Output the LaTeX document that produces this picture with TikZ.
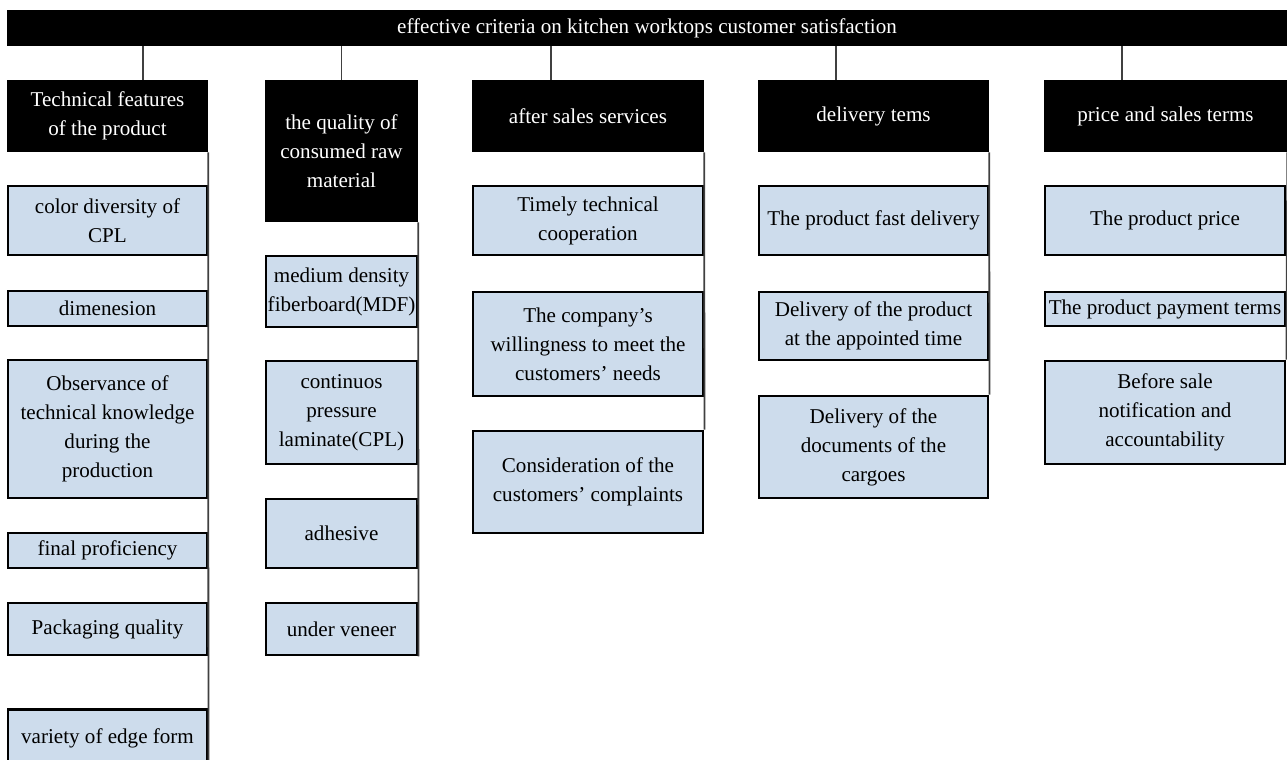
\documentclass[tikz,border=0pt]{standalone}
\usepackage{fontspec}
\setmainfont{Liberation Serif}
\usetikzlibrary{positioning}
\definecolor{itemblue}{RGB}{205,220,236}

\begin{document}
\begin{tikzpicture}[
    x=0.02cm, y=-0.02cm,
    font=\fontsize{12}{16.5}\selectfont,
    head/.style={fill=black, text=white, align=center, inner sep=1pt},
    item/.style={draw, line width=1.6pt, fill=itemblue, align=center, inner sep=1pt},
    link/.style={draw=black!75, line width=1pt}]
  \useasboundingbox (0,0) rectangle (1287,760);
  % title bar
  \node[head, minimum width=25.6cm, minimum height=0.72cm] (top) at (647,28)
       {effective criteria on kitchen worktops customer satisfaction};
  % criteria groups
  \node[head, minimum width=4.02cm, minimum height=1.44cm] (tech) at (107.5,116) {Technical features\\of the product};
  \node[head, minimum width=3.06cm, minimum height=2.84cm] (raw) at (341.5,151) {the quality of\\consumed raw\\material};
  \node[head, minimum width=4.64cm, minimum height=1.44cm] (after) at (588,116) {after sales services};
  \node[head, minimum width=4.62cm, minimum height=1.44cm] (deliv) at (873.5,116) {delivery tems};
  \node[head, minimum width=4.86cm, minimum height=1.44cm] (price) at (1165.5,116) {price and sales terms};
  \foreach \g/\dx in {tech/0.71, raw/0, after/-0.74, deliv/-0.75, price/-0.87} {
    \coordinate (\g-in) at ([xshift=\dx cm]\g.north);
    \draw[link] (\g-in) -- (\g-in |- top.south);
  }

  % technical features
  \node[item, minimum width=3.98cm, minimum height=1.38cm] (tech1) at (107.5,220.5) {color diversity of\\CPL};
  \node[item, minimum width=3.98cm, minimum height=0.7cm] (tech2) at (107.5,308.5) {dimenesion};
  \node[item, minimum width=3.98cm, minimum height=2.76cm] (tech3) at (107.5,429) {Observance of\\technical knowledge\\during the\\production};
  \node[item, minimum width=3.98cm, minimum height=0.7cm] (tech4) at (107.5,550.5) {final proficiency};
  \node[item, minimum width=3.98cm, minimum height=1.04cm] (tech5) at (107.5,629) {Packaging quality};
  \node[item, minimum width=3.98cm, minimum height=1.14cm, anchor=north] (tech6) at (107.5,708) {variety of edge form};
  \draw[link] (tech.south east) -- (tech6.south east);

  % raw material
  \node[item, minimum width=3.02cm, minimum height=1.42cm] (raw1) at (341.5,291.5) {medium density\\fiberboard(MDF)};
  \node[item, minimum width=3.02cm, minimum height=2.06cm] (raw2) at (341.5,412.5) {continuos\\pressure\\laminate(CPL)};
  \node[item, minimum width=3.02cm, minimum height=1.38cm] (raw3) at (341.5,533.5) {adhesive};
  \node[item, minimum width=3.02cm, minimum height=1.04cm] (raw4) at (341.5,629) {under veneer};
  \draw[link] (raw.south east) -- (raw4.south east);

  % after sales services
  \node[item, minimum width=4.6cm, minimum height=1.38cm] (after1) at (588,220.5) {Timely technical\\cooperation};
  \node[item, minimum width=4.6cm, minimum height=2.08cm] (after2) at (588,344) {The company’s\\willingness to meet the\\customers’ needs};
  \node[item, minimum width=4.6cm, minimum height=2.04cm] (after3) at (588,482) {Consideration of the\\customers’ complaints};
  \draw[link] (after.south east) -- (after3.north east);

  % delivery terms
  \node[item, minimum width=4.58cm, minimum height=1.38cm] (deliv1) at (873.5,220.5) {The product fast delivery};
  \node[item, minimum width=4.58cm, minimum height=1.36cm] (deliv2) at (873.5,326) {Delivery of the product\\at the appointed time};
  \node[item, minimum width=4.58cm, minimum height=2.04cm] (deliv3) at (873.5,447) {Delivery of the\\documents of the\\cargoes};
  \draw[link] (deliv.south east) -- (deliv3.north east);

  % price and sales terms
  \node[item, minimum width=4.8cm, minimum height=1.38cm] (price1) at (1165,220.5) {The product price};
  \node[item, minimum width=4.8cm, minimum height=0.68cm] (price2) at (1165,309) {The product payment terms};
  \node[item, minimum width=4.8cm, minimum height=2.06cm] (price3) at (1165,412.5) {Before sale\\notification and\\accountability};
  \draw[link] (price.south east) -- (price3.north east);
\end{tikzpicture}
\end{document}
